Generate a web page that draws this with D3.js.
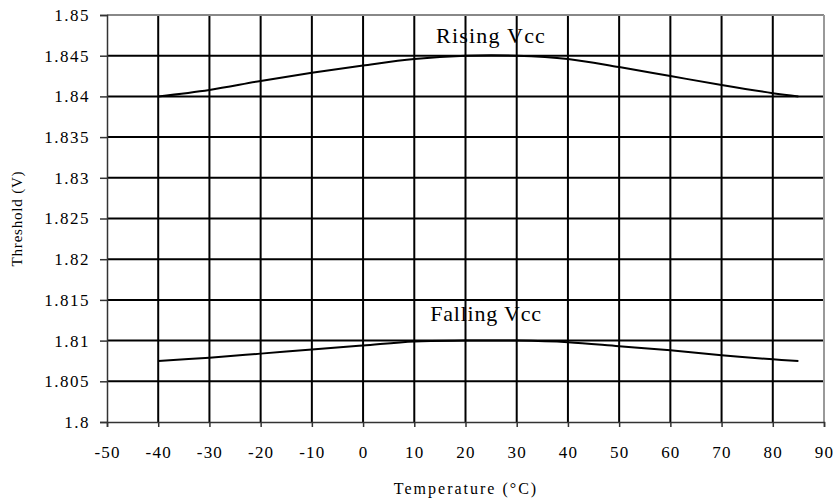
<!DOCTYPE html>
<html>
<head>
<meta charset="utf-8">
<script src="https://cdn.jsdelivr.net/npm/d3@7"></script>
<style>
  body { margin: 0; background: #fff; }
  text { font-family: "Liberation Serif", "Times New Roman", serif; fill: #000; }
</style>
</head>
<body>
<div id="chart"></div>
<script>
// temperatures (°C) and thresholds (V)
var temps = [-40, -30, -20, -10, 0, 10, 20, 30, 40, 50, 60, 70, 80, 85];
var rising = [1.8400, 1.8408, 1.8419, 1.8429, 1.8438, 1.8446, 1.8450, 1.8450, 1.8446, 1.8436, 1.8425, 1.8414, 1.8404, 1.8400];
var falling = [1.8075, 1.8079, 1.8084, 1.8089, 1.8094, 1.8099, 1.8100, 1.8100, 1.8098, 1.8093, 1.8088, 1.8082, 1.8077, 1.8075];
var xTicks = [-50, -40, -30, -20, -10, 0, 10, 20, 30, 40, 50, 60, 70, 80, 90];
var yTicks = [1.8, 1.805, 1.81, 1.815, 1.82, 1.825, 1.83, 1.835, 1.84, 1.845, 1.85];

var svgWidth = 839, svgHeight = 501;
var margin = {top: 15, right: 15, bottom: 79, left: 107};
var width = svgWidth - margin.left - margin.right;
var height = svgHeight - margin.top - margin.bottom;

var svg = d3.select("#chart").append("svg")
    .attr("width", svgWidth)
    .attr("height", svgHeight);

var g = svg.append("g")
    .attr("transform", "translate(" + margin.left + "," + margin.top + ")");

var x = d3.scaleLinear().domain([-50, 90]).range([0, width]);
var y = d3.scaleLinear().domain([1.8, 1.85]).range([height, 0]);

// gridlines
g.selectAll(".vgrid")
    .data(xTicks.slice(1, -1))
    .enter().append("line")
    .attr("x1", function (d) { return x(d); })
    .attr("x2", function (d) { return x(d); })
    .attr("y1", 0)
    .attr("y2", height)
    .attr("stroke", "#000")
    .attr("stroke-width", 2);

g.selectAll(".hgrid")
    .data(yTicks.slice(1, -1))
    .enter().append("line")
    .attr("x1", 0)
    .attr("x2", width)
    .attr("y1", function (d) { return y(d); })
    .attr("y2", function (d) { return y(d); })
    .attr("stroke", "#000")
    .attr("stroke-width", 2);

// top and right frame (grey)
g.append("line").attr("x1", 0).attr("x2", width).attr("y1", y(1.85)).attr("y2", y(1.85))
    .attr("stroke", "#888").attr("stroke-width", 2);
g.append("line").attr("x1", x(90)).attr("x2", x(90)).attr("y1", 0).attr("y2", height)
    .attr("stroke", "#999").attr("stroke-width", 2);

// X axis
var xAxis = g.append("g")
    .attr("transform", "translate(0," + height + ")")
    .call(d3.axisBottom(x).tickValues(xTicks).tickSize(5).tickPadding(19)
        .tickFormat(function (d) { return String(d); }));
xAxis.selectAll("text").attr("font-size", 17).attr("letter-spacing", "1.2px")
    .attr("font-family", "Liberation Serif");
xAxis.selectAll("line, path").attr("stroke", "#333").attr("stroke-width", 1.5);

// Y axis
var yAxis = g.append("g")
    .call(d3.axisLeft(y).tickValues(yTicks).tickSize(7).tickPadding(10)
        .tickFormat(function (d) { return String(+d.toFixed(3)); }));
yAxis.selectAll("text").attr("font-size", 17).attr("letter-spacing", "1.5px")
    .attr("font-family", "Liberation Serif");
yAxis.selectAll("line, path").attr("stroke", "#333").attr("stroke-width", 1.5);

// series
var line = d3.line()
    .x(function (d) { return x(d[0]); })
    .y(function (d) { return y(d[1]); })
    .curve(d3.curveCatmullRom);

[rising, falling].forEach(function (vals) {
    g.append("path")
        .datum(temps.map(function (t, i) { return [t, vals[i]]; }))
        .attr("fill", "none")
        .attr("stroke", "#000")
        .attr("stroke-width", 2)
        .attr("d", line);
});

// series labels
g.append("text")
    .attr("x", x(25)).attr("y", y(1.8466))
    .attr("text-anchor", "middle")
    .attr("font-size", 22).attr("letter-spacing", "1.2px")
    .text("Rising Vcc");

g.append("text")
    .attr("x", x(24)).attr("y", y(1.8124))
    .attr("text-anchor", "middle")
    .attr("font-size", 22).attr("letter-spacing", "0.8px")
    .text("Falling Vcc");

// axis titles
svg.append("text")
    .attr("x", 466)
    .attr("y", 494)
    .attr("text-anchor", "middle")
    .attr("font-size", 16).attr("letter-spacing", "2px")
    .text("Temperature (°C)");

svg.append("text")
    .attr("transform", "translate(22," + (margin.top + height / 2) + ") rotate(-90)")
    .attr("text-anchor", "middle")
    .attr("font-size", 15).attr("letter-spacing", "0.8px")
    .text("Threshold (V)");
</script>
</body>
</html>
